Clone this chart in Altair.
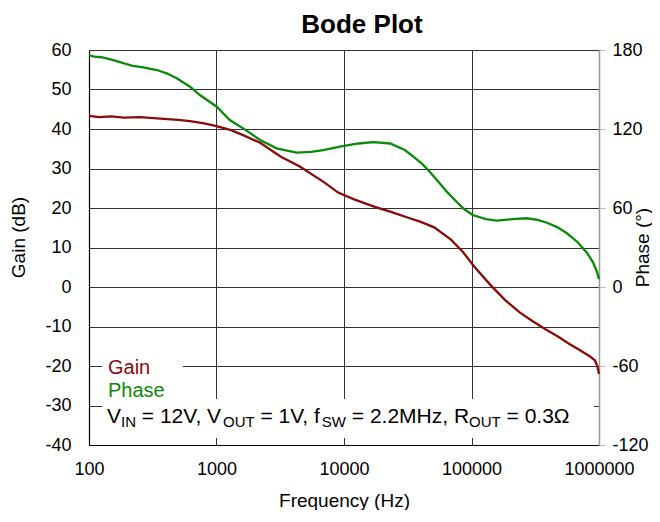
import altair as alt
import pandas as pd

# ---------------- data ----------------
gain_freq = [100, 120, 150, 186, 250, 340, 500, 620, 800, 1000, 1300, 1600, 2200,
             3200, 4500, 7000, 9000, 12000, 17000, 24000, 31500, 40000, 51000, 69000,
             85000, 105000, 140000, 182000, 240000, 300000, 380000, 480000, 590000,
             700000, 850000, 930000, 970000, 1000000]
gain_db = [43.3, 43.0, 43.2, 42.9, 43.0, 42.7, 42.3, 42.0, 41.4, 40.7, 39.7, 38.5, 36.5,
           33.0, 30.5, 26.5, 23.9, 22.2, 20.4, 18.9, 17.6, 16.5, 15.1, 12.0,
           9.0, 5.2, 0.6, -3.2, -6.5, -8.6, -10.7, -12.6, -14.5,
           -15.9, -17.6, -18.6, -20.0, -22.0]

phase_freq = [100, 110, 125, 140, 160, 186, 220, 260, 340, 407, 488, 620, 740, 1005,
              1270, 1620, 2200, 2960, 4240, 5500, 6890, 9300, 13000, 17000, 23000,
              30000, 35000, 41000, 47000, 55000, 64000, 75000, 86000, 102000, 130000,
              158000, 210000, 270000, 330000, 390000, 470000, 560000, 680000, 810000,
              900000, 960000, 1000000]
phase_deg = [176.0, 175.0, 174.5, 173.5, 172.0, 170.0, 168.0, 167.0, 164.8, 162.3, 158.5,
             152.1, 145.8, 136.9, 126.8, 120.5, 111.6, 105.3, 102.0, 102.6, 104.0, 106.6,
             109.0, 110.0, 109.0, 104.0, 99.0, 93.5, 87.6, 80.0, 72.4, 65.5, 59.8, 54.7,
             51.5, 50.4, 51.5, 52.2, 51.0, 48.8, 45.5, 40.8, 34.0, 25.6, 18.5, 12.0, 6.0]

gain_ticks = [-40, -30, -20, -10, 0, 10, 20, 30, 40, 50, 60]
phase_ticks = [-120, -60, 0, 60, 120, 180]
freq_ticks = [100, 1000, 10000, 100000, 1000000]

legend_names = ["Gain", "Phase"]
legend_colors = ["#8B0A0A", "#0A8A0A"]
# (text, subscript?) ; a leading space is turned into an offset
cond_pieces = [("V", False), ("IN", True), (" = 12V, V", False), ("OUT", True),
               (" = 1V, f", False), ("SW", True), (" = 2.2MHz, R", False),
               ("OUT", True), (" = 0.3\u03a9", False)]

FONT = "Liberation Sans"
W, H = 510, 395

gain_df = pd.DataFrame({"freq": gain_freq, "gain": gain_db})
phase_df = pd.DataFrame({"freq": phase_freq, "phase": phase_deg})

xscale = alt.Scale(type="log", domain=[100, 1000000], nice=False)
xaxis = alt.Axis(values=freq_ticks, format="d", title="Frequency (Hz)", grid=True,
                 gridColor="#333333", gridOpacity=1, gridWidth=1, ticks=False, tickSize=0,
                 domainColor="#000000", domainWidth=1.2, labelFontSize=18, labelPadding=15,
                 labelColor="#000000", titleFontSize=19, titleFontWeight="normal",
                 titleColor="#000000", titleX=255, titleY=61, titleBaseline="alphabetic",
                 titleAlign="center", labelFlush=False)

gain_line = alt.Chart(gain_df).mark_line(color=legend_colors[0], strokeWidth=2.3).encode(
    x=alt.X("freq:Q", scale=xscale, axis=xaxis),
    y=alt.Y("gain:Q", scale=alt.Scale(domain=[-40, 60], nice=False),
            axis=alt.Axis(values=gain_ticks, title="Gain (dB)", grid=True,
                          labelExpr="'' + datum.value",
                          gridColor="#333333", gridOpacity=1, gridWidth=1,
                          ticks=False, tickSize=0, domainColor="#000000", domainWidth=1.2,
                          labelFontSize=18, labelPadding=18, labelColor="#000000",
                          titleFontSize=19, titleFontWeight="normal", titleColor="#000000",
                          titleX=-71, titleY=187, titleAngle=270, titleAlign="center",
                          titleBaseline="middle")),
)

phase_line = alt.Chart(phase_df).mark_line(color=legend_colors[1], strokeWidth=2.3).encode(
    x=alt.X("freq:Q", scale=xscale, axis=xaxis),
    y=alt.Y("phase:Q", scale=alt.Scale(domain=[-120, 180], nice=False),
            axis=alt.Axis(orient="right", values=phase_ticks, title="Phase (\u00b0)",
                          labelExpr="'' + datum.value",
                          grid=False, ticks=True, tickSize=6, tickColor="#bbbbbb",
                          domainColor="#999999", domainWidth=1.5, labelFontSize=18,
                          labelPadding=7, labelColor="#000000", titleFontSize=19,
                          titleFontWeight="normal", titleColor="#000000",
                          titleX=49, titleY=197, titleAngle=270, titleAlign="center",
                          titleBaseline="alphabetic")),
)

one = alt.Data(values=[{}])

box1 = alt.Chart(one).mark_rect(color="white").encode(
    x=alt.value(13), x2=alt.value(94), y=alt.value(305), y2=alt.value(349))
box2 = alt.Chart(one).mark_rect(color="white").encode(
    x=alt.value(13), x2=alt.value(505), y=alt.value(349), y2=alt.value(388))

layers = [gain_line, phase_line, box1, box2]

# legend entries
for name, col, yb in zip(legend_names, legend_colors, [324, 347]):
    layers.append(alt.Chart(one).mark_text(align="left", baseline="alphabetic",
                                           font=FONT, fontSize=20, color=col).encode(
        x=alt.value(19), y=alt.value(yb), text=alt.value(name)))

# conditions line with subscripts (Arial/Liberation Sans advance widths)
adv = {" ": 278, "=": 584, "0": 556, "1": 556, "2": 556, "3": 556, "V": 667,
       ",": 278, "f": 278, ".": 278, "M": 833, "H": 722, "z": 500, "R": 722,
       "\u03a9": 768, "I": 278, "N": 722, "O": 778, "U": 722, "T": 611, "S": 667, "W": 944}
MAIN, SUB = 21, 15
xpos = 18.0
for txt, sub in cond_pieces:
    fs = SUB if sub else MAIN
    lead = len(txt) - len(txt.lstrip(" "))
    xpos += lead * adv[" "] * fs / 1000.0
    body = txt.lstrip(" ")
    layers.append(alt.Chart(one).mark_text(align="left", baseline="alphabetic",
                                           font=FONT, fontSize=fs, color="#000000").encode(
        x=alt.value(xpos), y=alt.value(377 if sub else 373), text=alt.value(body)))
    xpos += sum(adv.get(c, 556) for c in body) * fs / 1000.0

# title
layers.append(alt.Chart(one).mark_text(align="center", baseline="alphabetic", font=FONT,
                                       fontSize=26, fontWeight="bold", color="#000000").encode(
    x=alt.value(273), y=alt.value(-17), text=alt.value("Bode Plot")))

chart = alt.layer(*layers).resolve_scale(y="independent").properties(
    width=W, height=H,
    autosize=alt.AutoSizeParams(type="none"),
    padding={"left": 81, "top": 42, "right": 53, "bottom": 65},
).configure(font=FONT).configure_view(stroke=None)

chart.save("out.html", embed_options={"renderer": "svg", "actions": False})
